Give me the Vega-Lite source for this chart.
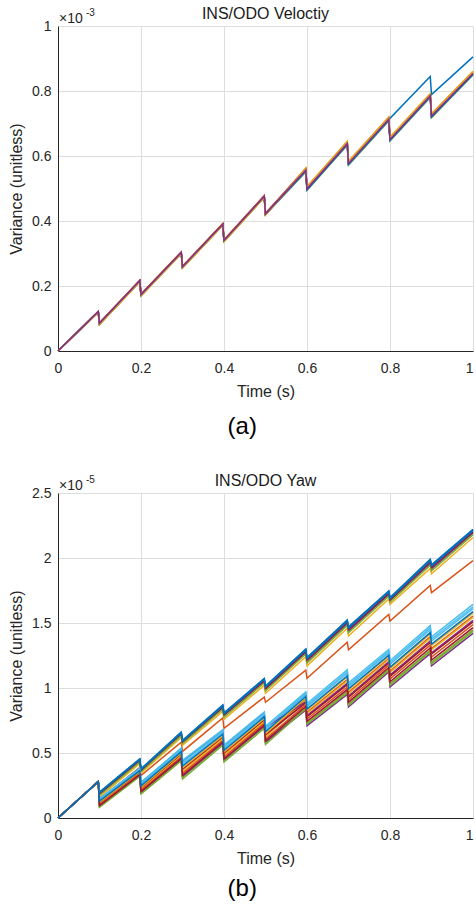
{
"$schema": "https://vega.github.io/schema/vega-lite/v6.json",
"background": "white",
"padding": {"left": 8, "right": 0, "top": 6, "bottom": 0},
"config": {
  "font": "Liberation Sans",
  "view": {"stroke": null},
  "axis": {"labelFontSize": 14, "titleFontSize": 16, "titleFontWeight": "normal", "labelColor": "#262626", "titleColor": "#262626", "domainColor": "#262626", "domainWidth": 1, "gridColor": "#dedede", "ticks": false, "labelPadding": 7, "labelFlush": false},
  "axisX": {"labelPadding": 10, "titlePadding": 8},
  "axisY": {"titlePadding": 7},
  "title": {"fontSize": 16, "fontWeight": "normal", "color": "#1a1a1a", "font": "Liberation Sans"}
},
"datasets": {
"vel": [
{"s":"a01","t":0,"v":0},{"s":"a01","t":0.097,"v":0.121},{"s":"a01","t":0.1,"v":0.084},{"s":"a01","t":0.197,"v":0.215},{"s":"a01","t":0.2,"v":0.172},{"s":"a01","t":0.297,"v":0.302},{"s":"a01","t":0.3,"v":0.258},{"s":"a01","t":0.397,"v":0.389},{"s":"a01","t":0.4,"v":0.339},{"s":"a01","t":0.497,"v":0.475},{"s":"a01","t":0.5,"v":0.421},{"s":"a01","t":0.597,"v":0.557},{"s":"a01","t":0.6,"v":0.5},{"s":"a01","t":0.697,"v":0.639},{"s":"a01","t":0.7,"v":0.578},{"s":"a01","t":0.797,"v":0.714},{"s":"a01","t":0.8,"v":0.716},{"s":"a01","t":0.897,"v":0.845},{"s":"a01","t":0.9,"v":0.789},{"s":"a01","t":1,"v":0.905},
{"s":"a02","t":0,"v":0},{"s":"a02","t":0.097,"v":0.121},{"s":"a02","t":0.1,"v":0.086},{"s":"a02","t":0.197,"v":0.217},{"s":"a02","t":0.2,"v":0.174},{"s":"a02","t":0.297,"v":0.304},{"s":"a02","t":0.3,"v":0.26},{"s":"a02","t":0.397,"v":0.391},{"s":"a02","t":0.4,"v":0.341},{"s":"a02","t":0.497,"v":0.477},{"s":"a02","t":0.5,"v":0.423},{"s":"a02","t":0.597,"v":0.562},{"s":"a02","t":0.6,"v":0.505},{"s":"a02","t":0.697,"v":0.644},{"s":"a02","t":0.7,"v":0.583},{"s":"a02","t":0.797,"v":0.719},{"s":"a02","t":0.8,"v":0.657},{"s":"a02","t":0.897,"v":0.791},{"s":"a02","t":0.9,"v":0.729},{"s":"a02","t":1,"v":0.86},
{"s":"a03","t":0,"v":0},{"s":"a03","t":0.097,"v":0.118},{"s":"a03","t":0.1,"v":0.081},{"s":"a03","t":0.197,"v":0.212},{"s":"a03","t":0.2,"v":0.169},{"s":"a03","t":0.297,"v":0.299},{"s":"a03","t":0.3,"v":0.255},{"s":"a03","t":0.397,"v":0.386},{"s":"a03","t":0.4,"v":0.336},{"s":"a03","t":0.497,"v":0.472},{"s":"a03","t":0.5,"v":0.418},{"s":"a03","t":0.597,"v":0.563},{"s":"a03","t":0.6,"v":0.506},{"s":"a03","t":0.697,"v":0.645},{"s":"a03","t":0.7,"v":0.584},{"s":"a03","t":0.797,"v":0.72},{"s":"a03","t":0.8,"v":0.658},{"s":"a03","t":0.897,"v":0.792},{"s":"a03","t":0.9,"v":0.73},{"s":"a03","t":1,"v":0.861},
{"s":"a04","t":0,"v":0},{"s":"a04","t":0.097,"v":0.121},{"s":"a04","t":0.1,"v":0.084},{"s":"a04","t":0.197,"v":0.215},{"s":"a04","t":0.2,"v":0.172},{"s":"a04","t":0.297,"v":0.302},{"s":"a04","t":0.3,"v":0.258},{"s":"a04","t":0.397,"v":0.389},{"s":"a04","t":0.4,"v":0.339},{"s":"a04","t":0.497,"v":0.475},{"s":"a04","t":0.5,"v":0.421},{"s":"a04","t":0.597,"v":0.555},{"s":"a04","t":0.6,"v":0.498},{"s":"a04","t":0.697,"v":0.637},{"s":"a04","t":0.7,"v":0.576},{"s":"a04","t":0.797,"v":0.712},{"s":"a04","t":0.8,"v":0.65},{"s":"a04","t":0.897,"v":0.784},{"s":"a04","t":0.9,"v":0.722},{"s":"a04","t":1,"v":0.853},
{"s":"a05","t":0,"v":0},{"s":"a05","t":0.097,"v":0.119},{"s":"a05","t":0.1,"v":0.082},{"s":"a05","t":0.197,"v":0.213},{"s":"a05","t":0.2,"v":0.17},{"s":"a05","t":0.297,"v":0.3},{"s":"a05","t":0.3,"v":0.256},{"s":"a05","t":0.397,"v":0.387},{"s":"a05","t":0.4,"v":0.337},{"s":"a05","t":0.497,"v":0.473},{"s":"a05","t":0.5,"v":0.419},{"s":"a05","t":0.597,"v":0.551},{"s":"a05","t":0.6,"v":0.494},{"s":"a05","t":0.697,"v":0.633},{"s":"a05","t":0.7,"v":0.572},{"s":"a05","t":0.797,"v":0.708},{"s":"a05","t":0.8,"v":0.646},{"s":"a05","t":0.897,"v":0.78},{"s":"a05","t":0.9,"v":0.718},{"s":"a05","t":1,"v":0.849},
{"s":"a06","t":0,"v":0},{"s":"a06","t":0.097,"v":0.122},{"s":"a06","t":0.1,"v":0.086},{"s":"a06","t":0.197,"v":0.217},{"s":"a06","t":0.2,"v":0.174},{"s":"a06","t":0.297,"v":0.304},{"s":"a06","t":0.3,"v":0.26},{"s":"a06","t":0.397,"v":0.391},{"s":"a06","t":0.4,"v":0.341},{"s":"a06","t":0.497,"v":0.477},{"s":"a06","t":0.5,"v":0.423},{"s":"a06","t":0.597,"v":0.554},{"s":"a06","t":0.6,"v":0.497},{"s":"a06","t":0.697,"v":0.636},{"s":"a06","t":0.7,"v":0.575},{"s":"a06","t":0.797,"v":0.711},{"s":"a06","t":0.8,"v":0.649},{"s":"a06","t":0.897,"v":0.783},{"s":"a06","t":0.9,"v":0.721},{"s":"a06","t":1,"v":0.852},
{"s":"a07","t":0,"v":0},{"s":"a07","t":0.097,"v":0.121},{"s":"a07","t":0.1,"v":0.085},{"s":"a07","t":0.197,"v":0.216},{"s":"a07","t":0.2,"v":0.173},{"s":"a07","t":0.297,"v":0.303},{"s":"a07","t":0.3,"v":0.259},{"s":"a07","t":0.397,"v":0.39},{"s":"a07","t":0.4,"v":0.34},{"s":"a07","t":0.497,"v":0.476},{"s":"a07","t":0.5,"v":0.422},{"s":"a07","t":0.597,"v":0.559},{"s":"a07","t":0.6,"v":0.502},{"s":"a07","t":0.697,"v":0.641},{"s":"a07","t":0.7,"v":0.58},{"s":"a07","t":0.797,"v":0.716},{"s":"a07","t":0.8,"v":0.654},{"s":"a07","t":0.897,"v":0.788},{"s":"a07","t":0.9,"v":0.726},{"s":"a07","t":1,"v":0.857},
{"s":"a08","t":0,"v":0},{"s":"a08","t":0.097,"v":0.12},{"s":"a08","t":0.1,"v":0.083},{"s":"a08","t":0.197,"v":0.214},{"s":"a08","t":0.2,"v":0.171},{"s":"a08","t":0.297,"v":0.301},{"s":"a08","t":0.3,"v":0.257},{"s":"a08","t":0.397,"v":0.388},{"s":"a08","t":0.4,"v":0.338},{"s":"a08","t":0.497,"v":0.474},{"s":"a08","t":0.5,"v":0.42},{"s":"a08","t":0.597,"v":0.553},{"s":"a08","t":0.6,"v":0.496},{"s":"a08","t":0.697,"v":0.635},{"s":"a08","t":0.7,"v":0.574},{"s":"a08","t":0.797,"v":0.71},{"s":"a08","t":0.8,"v":0.648},{"s":"a08","t":0.897,"v":0.782},{"s":"a08","t":0.9,"v":0.72},{"s":"a08","t":1,"v":0.851},
{"s":"a09","t":0,"v":0},{"s":"a09","t":0.097,"v":0.122},{"s":"a09","t":0.1,"v":0.087},{"s":"a09","t":0.197,"v":0.218},{"s":"a09","t":0.2,"v":0.175},{"s":"a09","t":0.297,"v":0.305},{"s":"a09","t":0.3,"v":0.261},{"s":"a09","t":0.397,"v":0.392},{"s":"a09","t":0.4,"v":0.342},{"s":"a09","t":0.497,"v":0.478},{"s":"a09","t":0.5,"v":0.424},{"s":"a09","t":0.597,"v":0.558},{"s":"a09","t":0.6,"v":0.501},{"s":"a09","t":0.697,"v":0.64},{"s":"a09","t":0.7,"v":0.579},{"s":"a09","t":0.797,"v":0.715},{"s":"a09","t":0.8,"v":0.653},{"s":"a09","t":0.897,"v":0.787},{"s":"a09","t":0.9,"v":0.725},{"s":"a09","t":1,"v":0.856},
{"s":"a10","t":0,"v":0},{"s":"a10","t":0.097,"v":0.119},{"s":"a10","t":0.1,"v":0.082},{"s":"a10","t":0.197,"v":0.213},{"s":"a10","t":0.2,"v":0.17},{"s":"a10","t":0.297,"v":0.3},{"s":"a10","t":0.3,"v":0.256},{"s":"a10","t":0.397,"v":0.387},{"s":"a10","t":0.4,"v":0.337},{"s":"a10","t":0.497,"v":0.473},{"s":"a10","t":0.5,"v":0.419},{"s":"a10","t":0.597,"v":0.56},{"s":"a10","t":0.6,"v":0.503},{"s":"a10","t":0.697,"v":0.642},{"s":"a10","t":0.7,"v":0.581},{"s":"a10","t":0.797,"v":0.717},{"s":"a10","t":0.8,"v":0.655},{"s":"a10","t":0.897,"v":0.789},{"s":"a10","t":0.9,"v":0.727},{"s":"a10","t":1,"v":0.858},
{"s":"a11","t":0,"v":0},{"s":"a11","t":0.097,"v":0.121},{"s":"a11","t":0.1,"v":0.085},{"s":"a11","t":0.197,"v":0.216},{"s":"a11","t":0.2,"v":0.173},{"s":"a11","t":0.297,"v":0.303},{"s":"a11","t":0.3,"v":0.259},{"s":"a11","t":0.397,"v":0.39},{"s":"a11","t":0.4,"v":0.34},{"s":"a11","t":0.497,"v":0.476},{"s":"a11","t":0.5,"v":0.422},{"s":"a11","t":0.597,"v":0.556},{"s":"a11","t":0.6,"v":0.499},{"s":"a11","t":0.697,"v":0.638},{"s":"a11","t":0.7,"v":0.577},{"s":"a11","t":0.797,"v":0.713},{"s":"a11","t":0.8,"v":0.651},{"s":"a11","t":0.897,"v":0.785},{"s":"a11","t":0.9,"v":0.723},{"s":"a11","t":1,"v":0.854}
],
"yaw": [
{"s":"b01","t":0,"v":0},{"s":"b01","t":0.097,"v":0.28},{"s":"b01","t":0.1,"v":0.2},{"s":"b01","t":0.197,"v":0.455},{"s":"b01","t":0.2,"v":0.378},{"s":"b01","t":0.297,"v":0.661},{"s":"b01","t":0.3,"v":0.597},{"s":"b01","t":0.397,"v":0.87},{"s":"b01","t":0.4,"v":0.81},{"s":"b01","t":0.497,"v":1.073},{"s":"b01","t":0.5,"v":1.015},{"s":"b01","t":0.597,"v":1.3},{"s":"b01","t":0.6,"v":1.235},{"s":"b01","t":0.697,"v":1.523},{"s":"b01","t":0.7,"v":1.471},{"s":"b01","t":0.797,"v":1.747},{"s":"b01","t":0.8,"v":1.695},{"s":"b01","t":0.897,"v":1.99},{"s":"b01","t":0.9,"v":1.948},{"s":"b01","t":1,"v":2.22},
{"s":"b02","t":0,"v":0},{"s":"b02","t":0.097,"v":0.28},{"s":"b02","t":0.1,"v":0.14},{"s":"b02","t":0.197,"v":0.39},{"s":"b02","t":0.2,"v":0.327},{"s":"b02","t":0.297,"v":0.584},{"s":"b02","t":0.3,"v":0.512},{"s":"b02","t":0.397,"v":0.769},{"s":"b02","t":0.4,"v":0.69},{"s":"b02","t":0.497,"v":0.93},{"s":"b02","t":0.5,"v":0.89},{"s":"b02","t":0.597,"v":1.137},{"s":"b02","t":0.6,"v":1.075},{"s":"b02","t":0.697,"v":1.352},{"s":"b02","t":0.7,"v":1.294},{"s":"b02","t":0.797,"v":1.566},{"s":"b02","t":0.8,"v":1.515},{"s":"b02","t":0.897,"v":1.788},{"s":"b02","t":0.9,"v":1.734},{"s":"b02","t":1,"v":1.98},
{"s":"b03","t":0,"v":0},{"s":"b03","t":0.097,"v":0.28},{"s":"b03","t":0.1,"v":0.16},{"s":"b03","t":0.197,"v":0.42},{"s":"b03","t":0.2,"v":0.345},{"s":"b03","t":0.297,"v":0.62},{"s":"b03","t":0.3,"v":0.56},{"s":"b03","t":0.397,"v":0.82},{"s":"b03","t":0.4,"v":0.76},{"s":"b03","t":0.497,"v":1.02},{"s":"b03","t":0.5,"v":0.96},{"s":"b03","t":0.597,"v":1.24},{"s":"b03","t":0.6,"v":1.17},{"s":"b03","t":0.697,"v":1.46},{"s":"b03","t":0.7,"v":1.4},{"s":"b03","t":0.797,"v":1.685},{"s":"b03","t":0.8,"v":1.643},{"s":"b03","t":0.897,"v":1.92},{"s":"b03","t":0.9,"v":1.878},{"s":"b03","t":1,"v":2.158},
{"s":"b04","t":0,"v":0},{"s":"b04","t":0.097,"v":0.28},{"s":"b04","t":0.1,"v":0.182},{"s":"b04","t":0.197,"v":0.439},{"s":"b04","t":0.2,"v":0.363},{"s":"b04","t":0.297,"v":0.643},{"s":"b04","t":0.3,"v":0.58},{"s":"b04","t":0.397,"v":0.847},{"s":"b04","t":0.4,"v":0.787},{"s":"b04","t":0.497,"v":1.049},{"s":"b04","t":0.5,"v":0.99},{"s":"b04","t":0.597,"v":1.273},{"s":"b04","t":0.6,"v":1.206},{"s":"b04","t":0.697,"v":1.495},{"s":"b04","t":0.7,"v":1.439},{"s":"b04","t":0.797,"v":1.719},{"s":"b04","t":0.8,"v":1.672},{"s":"b04","t":0.897,"v":1.958},{"s":"b04","t":0.9,"v":1.916},{"s":"b04","t":1,"v":2.192},
{"s":"b05","t":0,"v":0},{"s":"b05","t":0.097,"v":0.28},{"s":"b05","t":0.1,"v":0.174},{"s":"b05","t":0.197,"v":0.432},{"s":"b05","t":0.2,"v":0.357},{"s":"b05","t":0.297,"v":0.634},{"s":"b05","t":0.3,"v":0.573},{"s":"b05","t":0.397,"v":0.837},{"s":"b05","t":0.4,"v":0.777},{"s":"b05","t":0.497,"v":1.039},{"s":"b05","t":0.5,"v":0.979},{"s":"b05","t":0.597,"v":1.261},{"s":"b05","t":0.6,"v":1.193},{"s":"b05","t":0.697,"v":1.482},{"s":"b05","t":0.7,"v":1.425},{"s":"b05","t":0.797,"v":1.707},{"s":"b05","t":0.8,"v":1.661},{"s":"b05","t":0.897,"v":1.944},{"s":"b05","t":0.9,"v":1.902},{"s":"b05","t":1,"v":2.18},
{"s":"b06","t":0,"v":0},{"s":"b06","t":0.097,"v":0.28},{"s":"b06","t":0.1,"v":0.137},{"s":"b06","t":0.197,"v":0.37},{"s":"b06","t":0.2,"v":0.257},{"s":"b06","t":0.297,"v":0.518},{"s":"b06","t":0.3,"v":0.414},{"s":"b06","t":0.397,"v":0.656},{"s":"b06","t":0.4,"v":0.534},{"s":"b06","t":0.497,"v":0.791},{"s":"b06","t":0.5,"v":0.677},{"s":"b06","t":0.597,"v":0.949},{"s":"b06","t":0.6,"v":0.855},{"s":"b06","t":0.697,"v":1.112},{"s":"b06","t":0.7,"v":1.012},{"s":"b06","t":0.797,"v":1.27},{"s":"b06","t":0.8,"v":1.18},{"s":"b06","t":0.897,"v":1.448},{"s":"b06","t":0.9,"v":1.36},{"s":"b06","t":1,"v":1.61},
{"s":"b07","t":0,"v":0},{"s":"b07","t":0.097,"v":0.28},{"s":"b07","t":0.1,"v":0.188},{"s":"b07","t":0.197,"v":0.444},{"s":"b07","t":0.2,"v":0.368},{"s":"b07","t":0.297,"v":0.649},{"s":"b07","t":0.3,"v":0.586},{"s":"b07","t":0.397,"v":0.855},{"s":"b07","t":0.4,"v":0.795},{"s":"b07","t":0.497,"v":1.057},{"s":"b07","t":0.5,"v":0.998},{"s":"b07","t":0.597,"v":1.282},{"s":"b07","t":0.6,"v":1.215},{"s":"b07","t":0.697,"v":1.504},{"s":"b07","t":0.7,"v":1.45},{"s":"b07","t":0.797,"v":1.728},{"s":"b07","t":0.8,"v":1.679},{"s":"b07","t":0.897,"v":1.969},{"s":"b07","t":0.9,"v":1.927},{"s":"b07","t":1,"v":2.201},
{"s":"b08","t":0,"v":0},{"s":"b08","t":0.097,"v":0.28},{"s":"b08","t":0.1,"v":0.197},{"s":"b08","t":0.197,"v":0.453},{"s":"b08","t":0.2,"v":0.376},{"s":"b08","t":0.297,"v":0.658},{"s":"b08","t":0.3,"v":0.594},{"s":"b08","t":0.397,"v":0.866},{"s":"b08","t":0.4,"v":0.806},{"s":"b08","t":0.497,"v":1.069},{"s":"b08","t":0.5,"v":1.011},{"s":"b08","t":0.597,"v":1.296},{"s":"b08","t":0.6,"v":1.23},{"s":"b08","t":0.697,"v":1.519},{"s":"b08","t":0.7,"v":1.466},{"s":"b08","t":0.797,"v":1.743},{"s":"b08","t":0.8,"v":1.691},{"s":"b08","t":0.897,"v":1.985},{"s":"b08","t":0.9,"v":1.943},{"s":"b08","t":1,"v":2.216},
{"s":"b09","t":0,"v":0},{"s":"b09","t":0.097,"v":0.28},{"s":"b09","t":0.1,"v":0.117},{"s":"b09","t":0.197,"v":0.352},{"s":"b09","t":0.2,"v":0.23},{"s":"b09","t":0.297,"v":0.489},{"s":"b09","t":0.3,"v":0.372},{"s":"b09","t":0.397,"v":0.62},{"s":"b09","t":0.4,"v":0.495},{"s":"b09","t":0.497,"v":0.753},{"s":"b09","t":0.5,"v":0.635},{"s":"b09","t":0.597,"v":0.914},{"s":"b09","t":0.6,"v":0.812},{"s":"b09","t":0.697,"v":1.064},{"s":"b09","t":0.7,"v":0.966},{"s":"b09","t":0.797,"v":1.227},{"s":"b09","t":0.8,"v":1.129},{"s":"b09","t":0.897,"v":1.394},{"s":"b09","t":0.9,"v":1.304},{"s":"b09","t":1,"v":1.554},
{"s":"b10","t":0,"v":0},{"s":"b10","t":0.097,"v":0.28},{"s":"b10","t":0.1,"v":0.11},{"s":"b10","t":0.197,"v":0.345},{"s":"b10","t":0.2,"v":0.221},{"s":"b10","t":0.297,"v":0.479},{"s":"b10","t":0.3,"v":0.357},{"s":"b10","t":0.397,"v":0.608},{"s":"b10","t":0.4,"v":0.482},{"s":"b10","t":0.497,"v":0.74},{"s":"b10","t":0.5,"v":0.621},{"s":"b10","t":0.597,"v":0.907},{"s":"b10","t":0.6,"v":0.804},{"s":"b10","t":0.697,"v":1.055},{"s":"b10","t":0.7,"v":0.956},{"s":"b10","t":0.797,"v":1.219},{"s":"b10","t":0.8,"v":1.119},{"s":"b10","t":0.897,"v":1.383},{"s":"b10","t":0.9,"v":1.293},{"s":"b10","t":1,"v":1.543},
{"s":"b11","t":0,"v":0},{"s":"b11","t":0.097,"v":0.28},{"s":"b11","t":0.1,"v":0.147},{"s":"b11","t":0.197,"v":0.38},{"s":"b11","t":0.2,"v":0.271},{"s":"b11","t":0.297,"v":0.533},{"s":"b11","t":0.3,"v":0.436},{"s":"b11","t":0.397,"v":0.674},{"s":"b11","t":0.4,"v":0.554},{"s":"b11","t":0.497,"v":0.81},{"s":"b11","t":0.5,"v":0.698},{"s":"b11","t":0.597,"v":0.893},{"s":"b11","t":0.6,"v":0.787},{"s":"b11","t":0.697,"v":1.036},{"s":"b11","t":0.7,"v":0.938},{"s":"b11","t":0.797,"v":1.201},{"s":"b11","t":0.8,"v":1.099},{"s":"b11","t":0.897,"v":1.362},{"s":"b11","t":0.9,"v":1.271},{"s":"b11","t":1,"v":1.52},
{"s":"b12","t":0,"v":0},{"s":"b12","t":0.097,"v":0.28},{"s":"b12","t":0.1,"v":0.09},{"s":"b12","t":0.197,"v":0.326},{"s":"b12","t":0.2,"v":0.194},{"s":"b12","t":0.297,"v":0.45},{"s":"b12","t":0.3,"v":0.314},{"s":"b12","t":0.397,"v":0.572},{"s":"b12","t":0.4,"v":0.443},{"s":"b12","t":0.497,"v":0.703},{"s":"b12","t":0.5,"v":0.579},{"s":"b12","t":0.597,"v":0.847},{"s":"b12","t":0.6,"v":0.73},{"s":"b12","t":0.697,"v":0.973},{"s":"b12","t":0.7,"v":0.876},{"s":"b12","t":0.797,"v":1.145},{"s":"b12","t":0.8,"v":1.032},{"s":"b12","t":0.897,"v":1.291},{"s":"b12","t":0.9,"v":1.197},{"s":"b12","t":1,"v":1.447},
{"s":"b13","t":0,"v":0},{"s":"b13","t":0.097,"v":0.28},{"s":"b13","t":0.1,"v":0.15},{"s":"b13","t":0.197,"v":0.383},{"s":"b13","t":0.2,"v":0.275},{"s":"b13","t":0.297,"v":0.538},{"s":"b13","t":0.3,"v":0.443},{"s":"b13","t":0.397,"v":0.68},{"s":"b13","t":0.4,"v":0.56},{"s":"b13","t":0.497,"v":0.816},{"s":"b13","t":0.5,"v":0.705},{"s":"b13","t":0.597,"v":0.97},{"s":"b13","t":0.6,"v":0.88},{"s":"b13","t":0.697,"v":1.14},{"s":"b13","t":0.7,"v":1.04},{"s":"b13","t":0.797,"v":1.296},{"s":"b13","t":0.8,"v":1.21},{"s":"b13","t":0.897,"v":1.48},{"s":"b13","t":0.9,"v":1.394},{"s":"b13","t":1,"v":1.643},
{"s":"b14","t":0,"v":0},{"s":"b14","t":0.097,"v":0.28},{"s":"b14","t":0.1,"v":0.12},{"s":"b14","t":0.197,"v":0.355},{"s":"b14","t":0.2,"v":0.235},{"s":"b14","t":0.297,"v":0.494},{"s":"b14","t":0.3,"v":0.379},{"s":"b14","t":0.397,"v":0.626},{"s":"b14","t":0.4,"v":0.502},{"s":"b14","t":0.497,"v":0.759},{"s":"b14","t":0.5,"v":0.642},{"s":"b14","t":0.597,"v":0.886},{"s":"b14","t":0.6,"v":0.778},{"s":"b14","t":0.697,"v":1.026},{"s":"b14","t":0.7,"v":0.928},{"s":"b14","t":0.797,"v":1.193},{"s":"b14","t":0.8,"v":1.089},{"s":"b14","t":0.897,"v":1.351},{"s":"b14","t":0.9,"v":1.26},{"s":"b14","t":1,"v":1.509},
{"s":"b15","t":0,"v":0},{"s":"b15","t":0.097,"v":0.28},{"s":"b15","t":0.1,"v":0.194},{"s":"b15","t":0.197,"v":0.45},{"s":"b15","t":0.2,"v":0.373},{"s":"b15","t":0.297,"v":0.655},{"s":"b15","t":0.3,"v":0.591},{"s":"b15","t":0.397,"v":0.862},{"s":"b15","t":0.4,"v":0.802},{"s":"b15","t":0.497,"v":1.065},{"s":"b15","t":0.5,"v":1.007},{"s":"b15","t":0.597,"v":1.291},{"s":"b15","t":0.6,"v":1.225},{"s":"b15","t":0.697,"v":1.514},{"s":"b15","t":0.7,"v":1.46},{"s":"b15","t":0.797,"v":1.738},{"s":"b15","t":0.8,"v":1.687},{"s":"b15","t":0.897,"v":1.98},{"s":"b15","t":0.9,"v":1.937},{"s":"b15","t":1,"v":2.211},
{"s":"b16","t":0,"v":0},{"s":"b16","t":0.097,"v":0.28},{"s":"b16","t":0.1,"v":0.103},{"s":"b16","t":0.197,"v":0.339},{"s":"b16","t":0.2,"v":0.212},{"s":"b16","t":0.297,"v":0.469},{"s":"b16","t":0.3,"v":0.343},{"s":"b16","t":0.397,"v":0.596},{"s":"b16","t":0.4,"v":0.469},{"s":"b16","t":0.497,"v":0.728},{"s":"b16","t":0.5,"v":0.607},{"s":"b16","t":0.597,"v":0.872},{"s":"b16","t":0.6,"v":0.761},{"s":"b16","t":0.697,"v":1.007},{"s":"b16","t":0.7,"v":0.91},{"s":"b16","t":0.797,"v":1.176},{"s":"b16","t":0.8,"v":1.069},{"s":"b16","t":0.897,"v":1.33},{"s":"b16","t":0.9,"v":1.237},{"s":"b16","t":1,"v":1.487},
{"s":"b17","t":0,"v":0},{"s":"b17","t":0.097,"v":0.28},{"s":"b17","t":0.1,"v":0.123},{"s":"b17","t":0.197,"v":0.358},{"s":"b17","t":0.2,"v":0.239},{"s":"b17","t":0.297,"v":0.499},{"s":"b17","t":0.3,"v":0.386},{"s":"b17","t":0.397,"v":0.632},{"s":"b17","t":0.4,"v":0.508},{"s":"b17","t":0.497,"v":0.766},{"s":"b17","t":0.5,"v":0.649},{"s":"b17","t":0.597,"v":0.928},{"s":"b17","t":0.6,"v":0.829},{"s":"b17","t":0.697,"v":1.083},{"s":"b17","t":0.7,"v":0.984},{"s":"b17","t":0.797,"v":1.244},{"s":"b17","t":0.8,"v":1.149},{"s":"b17","t":0.897,"v":1.416},{"s":"b17","t":0.9,"v":1.327},{"s":"b17","t":1,"v":1.576},
{"s":"b18","t":0,"v":0},{"s":"b18","t":0.097,"v":0.28},{"s":"b18","t":0.1,"v":0.093},{"s":"b18","t":0.197,"v":0.329},{"s":"b18","t":0.2,"v":0.199},{"s":"b18","t":0.297,"v":0.455},{"s":"b18","t":0.3,"v":0.321},{"s":"b18","t":0.397,"v":0.578},{"s":"b18","t":0.4,"v":0.45},{"s":"b18","t":0.497,"v":0.709},{"s":"b18","t":0.5,"v":0.586},{"s":"b18","t":0.597,"v":0.83},{"s":"b18","t":0.6,"v":0.71},{"s":"b18","t":0.697,"v":0.95},{"s":"b18","t":0.7,"v":0.854},{"s":"b18","t":0.797,"v":1.124},{"s":"b18","t":0.8,"v":1.008},{"s":"b18","t":0.897,"v":1.265},{"s":"b18","t":0.9,"v":1.17},{"s":"b18","t":1,"v":1.42},
{"s":"b19","t":0,"v":0},{"s":"b19","t":0.097,"v":0.28},{"s":"b19","t":0.1,"v":0.083},{"s":"b19","t":0.197,"v":0.32},{"s":"b19","t":0.2,"v":0.185},{"s":"b19","t":0.297,"v":0.44},{"s":"b19","t":0.3,"v":0.3},{"s":"b19","t":0.397,"v":0.56},{"s":"b19","t":0.4,"v":0.43},{"s":"b19","t":0.497,"v":0.69},{"s":"b19","t":0.5,"v":0.565},{"s":"b19","t":0.597,"v":0.84},{"s":"b19","t":0.6,"v":0.722},{"s":"b19","t":0.697,"v":0.963},{"s":"b19","t":0.7,"v":0.867},{"s":"b19","t":0.797,"v":1.136},{"s":"b19","t":0.8,"v":1.022},{"s":"b19","t":0.897,"v":1.28},{"s":"b19","t":0.9,"v":1.186},{"s":"b19","t":1,"v":1.436},
{"s":"b20","t":0,"v":0},{"s":"b20","t":0.097,"v":0.28},{"s":"b20","t":0.1,"v":0.143},{"s":"b20","t":0.197,"v":0.377},{"s":"b20","t":0.2,"v":0.266},{"s":"b20","t":0.297,"v":0.528},{"s":"b20","t":0.3,"v":0.429},{"s":"b20","t":0.397,"v":0.668},{"s":"b20","t":0.4,"v":0.547},{"s":"b20","t":0.497,"v":0.803},{"s":"b20","t":0.5,"v":0.691},{"s":"b20","t":0.597,"v":0.959},{"s":"b20","t":0.6,"v":0.866},{"s":"b20","t":0.697,"v":1.125},{"s":"b20","t":0.7,"v":1.025},{"s":"b20","t":0.797,"v":1.282},{"s":"b20","t":0.8,"v":1.194},{"s":"b20","t":0.897,"v":1.463},{"s":"b20","t":0.9,"v":1.376},{"s":"b20","t":1,"v":1.625},
{"s":"b21","t":0,"v":0},{"s":"b21","t":0.097,"v":0.28},{"s":"b21","t":0.1,"v":0.096},{"s":"b21","t":0.197,"v":0.333},{"s":"b21","t":0.2,"v":0.203},{"s":"b21","t":0.297,"v":0.46},{"s":"b21","t":0.3,"v":0.329},{"s":"b21","t":0.397,"v":0.584},{"s":"b21","t":0.4,"v":0.456},{"s":"b21","t":0.497,"v":0.715},{"s":"b21","t":0.5,"v":0.593},{"s":"b21","t":0.597,"v":0.858},{"s":"b21","t":0.6,"v":0.744},{"s":"b21","t":0.697,"v":0.988},{"s":"b21","t":0.7,"v":0.891},{"s":"b21","t":0.797,"v":1.158},{"s":"b21","t":0.8,"v":1.048},{"s":"b21","t":0.897,"v":1.308},{"s":"b21","t":0.9,"v":1.215},{"s":"b21","t":1,"v":1.465},
{"s":"b22","t":0,"v":0},{"s":"b22","t":0.097,"v":0.28},{"s":"b22","t":0.1,"v":0.13},{"s":"b22","t":0.197,"v":0.364},{"s":"b22","t":0.2,"v":0.248},{"s":"b22","t":0.297,"v":0.509},{"s":"b22","t":0.3,"v":0.4},{"s":"b22","t":0.397,"v":0.644},{"s":"b22","t":0.4,"v":0.521},{"s":"b22","t":0.497,"v":0.778},{"s":"b22","t":0.5,"v":0.663},{"s":"b22","t":0.597,"v":0.935},{"s":"b22","t":0.6,"v":0.838},{"s":"b22","t":0.697,"v":1.093},{"s":"b22","t":0.7,"v":0.994},{"s":"b22","t":0.797,"v":1.253},{"s":"b22","t":0.8,"v":1.16},{"s":"b22","t":0.897,"v":1.426},{"s":"b22","t":0.9,"v":1.338},{"s":"b22","t":1,"v":1.587}
]
},
"resolve": {"scale": {"color": "independent"}},
"spacing": 34,
"vconcat": [
{
  "title": {"text": "(a)", "orient": "bottom", "anchor": "middle", "fontSize": 24, "offset": 16, "color": "#000000"},
  "resolve": {"scale": {"color": "independent"}},
  "vconcat": [{
    "width": 415, "height": 325,
    "title": {"text": "INS/ODO Veloctiy", "fontSize": 16, "offset": -14},
    "layer": [
      {"data": {"name": "vel"},
       "mark": {"type": "line", "strokeWidth": 1.5},
       "encoding": {
         "x": {"field": "t", "type": "quantitative", "scale": {"domain": [0, 1], "nice": false}, "axis": {"values": [0, 0.2, 0.4, 0.6, 0.8, 1], "format": "~g", "title": "Time (s)", "labelAlign": {"condition": {"test": "datum.value == 1", "value": "right"}, "value": "center"}}},
         "y": {"field": "v", "type": "quantitative", "scale": {"domain": [0, 1], "nice": false}, "axis": {"values": [0, 0.2, 0.4, 0.6, 0.8, 1], "format": "~g", "title": "Variance (unitless)"}},
         "color": {"field": "s", "type": "nominal", "scale": {"range": ["#0072BD", "#D95319", "#EDB120", "#7E2F8E", "#77AC30", "#4DBEEE", "#A2142F"]}, "legend": null}
       }},
      {"data": {"values": [{"t": 0, "v": 1, "base": "×10", "exp": "-3"}]},
       "mark": {"type": "text", "align": "left", "baseline": "alphabetic", "dx": 1, "dy": -3, "fontSize": 14, "color": "#262626"},
       "encoding": {"x": {"field": "t", "type": "quantitative"}, "y": {"field": "v", "type": "quantitative"}, "text": {"field": "base"}}},
      {"data": {"values": [{"t": 0, "v": 1, "base": "×10", "exp": "-3"}]},
       "mark": {"type": "text", "align": "left", "baseline": "alphabetic", "dx": 28, "dy": -10, "fontSize": 10, "color": "#262626"},
       "encoding": {"x": {"field": "t", "type": "quantitative"}, "y": {"field": "v", "type": "quantitative"}, "text": {"field": "exp"}}}
    ]
  }]
},
{
  "title": {"text": "(b)", "orient": "bottom", "anchor": "middle", "fontSize": 24, "offset": 11, "color": "#000000"},
  "resolve": {"scale": {"color": "independent"}},
  "vconcat": [{
    "width": 415, "height": 325,
    "title": {"text": "INS/ODO Yaw", "fontSize": 16, "offset": -14},
    "layer": [
      {"data": {"name": "yaw"},
       "mark": {"type": "line", "strokeWidth": 1.5},
       "encoding": {
         "x": {"field": "t", "type": "quantitative", "scale": {"domain": [0, 1], "nice": false}, "axis": {"values": [0, 0.2, 0.4, 0.6, 0.8, 1], "format": "~g", "title": "Time (s)", "labelAlign": {"condition": {"test": "datum.value == 1", "value": "right"}, "value": "center"}}},
         "y": {"field": "v", "type": "quantitative", "scale": {"domain": [0, 2.5], "nice": false}, "axis": {"values": [0, 0.5, 1, 1.5, 2, 2.5], "format": "~g", "title": "Variance (unitless)"}},
         "color": {"field": "s", "type": "nominal", "scale": {"range": ["#0072BD", "#D95319", "#EDB120", "#7E2F8E", "#77AC30", "#4DBEEE", "#A2142F"]}, "legend": null}
       }},
      {"data": {"values": [{"t": 0, "v": 2.5, "base": "×10", "exp": "-5"}]},
       "mark": {"type": "text", "align": "left", "baseline": "alphabetic", "dx": 1, "dy": -3, "fontSize": 14, "color": "#262626"},
       "encoding": {"x": {"field": "t", "type": "quantitative"}, "y": {"field": "v", "type": "quantitative"}, "text": {"field": "base"}}},
      {"data": {"values": [{"t": 0, "v": 2.5, "base": "×10", "exp": "-5"}]},
       "mark": {"type": "text", "align": "left", "baseline": "alphabetic", "dx": 28, "dy": -10, "fontSize": 10, "color": "#262626"},
       "encoding": {"x": {"field": "t", "type": "quantitative"}, "y": {"field": "v", "type": "quantitative"}, "text": {"field": "exp"}}}
    ]
  }]
}
]
}
